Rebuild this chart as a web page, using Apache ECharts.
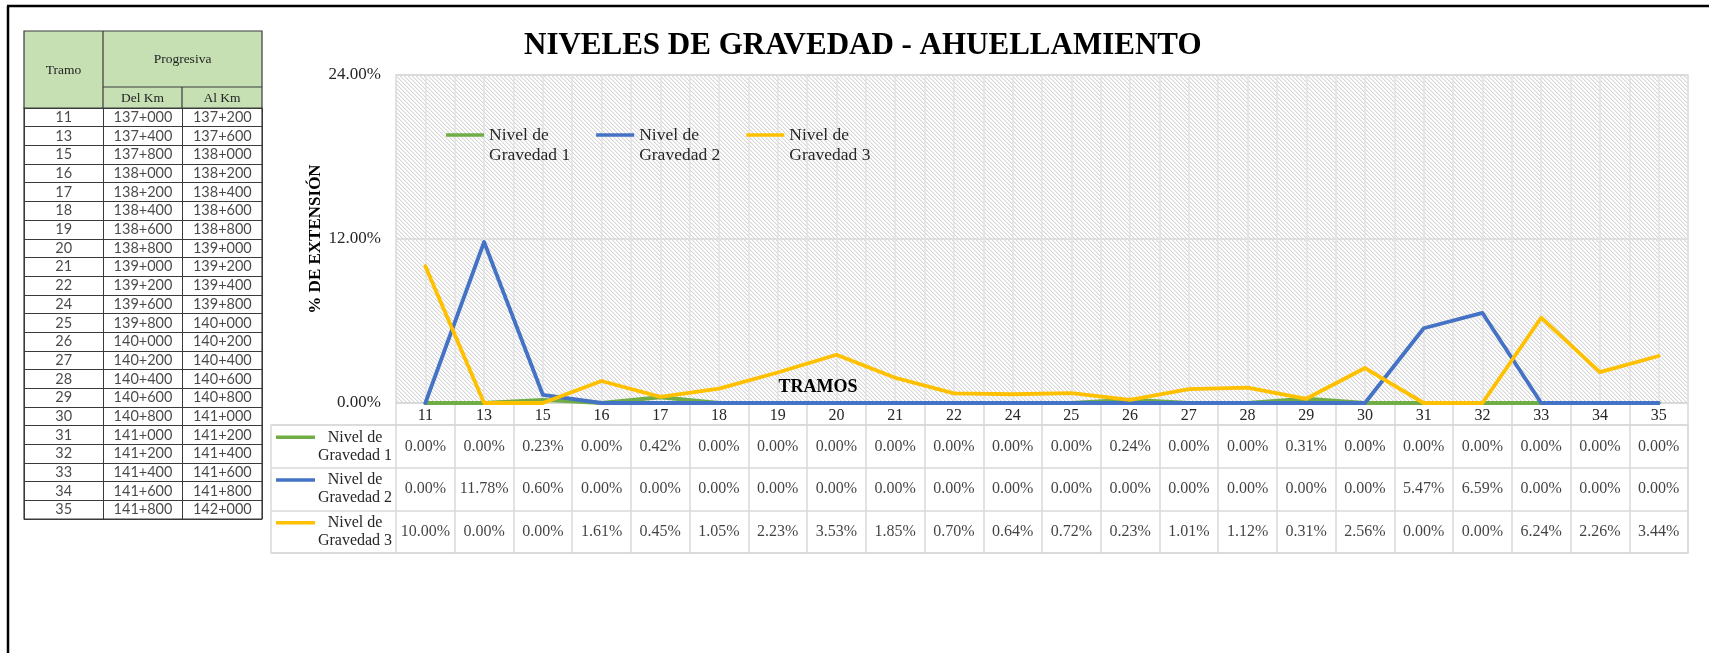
<!DOCTYPE html>
<html>
<head>
<meta charset="utf-8">
<script src="https://cdn.jsdelivr.net/npm/echarts@6/dist/echarts.min.js"></script>
<style>
html,body{margin:0;padding:0;background:#fff;}
#chart{width:1709px;height:653px;}
</style>
</head>
<body>
<div id="chart"></div>
<script>
// ---- data ----
const categories = ['11','13','15','16','17','18','19','20','21','22','24','25','26','27','28','29','30','31','32','33','34','35'];
const seriesNames = ['Nivel de Gravedad 1','Nivel de Gravedad 2','Nivel de Gravedad 3'];
const gravedad1 = [0.00,0.00,0.23,0.00,0.42,0.00,0.00,0.00,0.00,0.00,0.00,0.00,0.24,0.00,0.00,0.31,0.00,0.00,0.00,0.00,0.00,0.00];
const gravedad2 = [0.00,11.78,0.60,0.00,0.00,0.00,0.00,0.00,0.00,0.00,0.00,0.00,0.00,0.00,0.00,0.00,0.00,5.47,6.59,0.00,0.00,0.00];
const gravedad3 = [10.00,0.00,0.00,1.61,0.45,1.05,2.23,3.53,1.85,0.70,0.64,0.72,0.23,1.01,1.12,0.31,2.56,0.00,0.00,6.24,2.26,3.44];
const yTicks = [0, 12, 24];
const tramos = ['11','13','15','16','17','18','19','20','21','22','24','25','26','27','28','29','30','31','32','33','34','35'];
const delKm = ['137+000','137+400','137+800','138+000','138+200','138+400','138+600','138+800','139+000','139+200','139+600','139+800','140+000','140+200','140+400','140+600','140+800','141+000','141+200','141+400','141+600','141+800'];
const alKm  = ['137+200','137+600','138+000','138+200','138+400','138+600','138+800','139+000','139+200','139+400','139+800','140+000','140+200','140+400','140+600','140+800','141+000','141+200','141+400','141+600','141+800','142+000'];
const tableColumns = ['Tramo','Del Km','Al Km'];

// ---- styling ----
const SERIF = '"Liberation Serif", "Times New Roman", serif';
const SANS = 'Lato, "Open Sans", sans-serif';
const colors = ['#70AD47','#4472C4','#FFC000'];
const values = [gravedad1, gravedad2, gravedad3];

// hatch pattern for plot background
const pc = document.createElement('canvas');
pc.width = 8; pc.height = 8;
const pctx = pc.getContext('2d');
pctx.fillStyle = '#ffffff'; pctx.fillRect(0,0,8,8);
for (let x = 0; x < 8; x++) for (let y = 0; y < 8; y++) {
  const d = (((x - y) % 4) + 4) % 4;
  if (d === 0) { pctx.fillStyle = '#d6d6d6'; pctx.fillRect(x,y,1,1); }
  else if (d === 1) { pctx.fillStyle = '#efefef'; pctx.fillRect(x,y,1,1); }
}

const halfCats = categories.flatMap(c => [c + 'a', c + 'b']);

const tableData = [];
values.forEach((arr, s) => arr.forEach((v, i) => tableData.push([i, s, v])));
const leftData = [];
tramos.forEach((t, i) => {
  leftData.push([0, i, t]);
  leftData.push([1, i, delKm[i]]);
  leftData.push([2, i, alKm[i]]);
});

const rich = {
  t: {fontFamily: SERIF, fontSize: 16, lineHeight: 18, color: '#262626', width: 80, align: 'center'},
  b: {width: 39, height: 3}
};
colors.forEach((c, i) => { rich['k' + i] = {width: 39, height: 3.5, backgroundColor: c}; });

const chart = echarts.init(document.getElementById('chart'));
const hdrLine = '#3a3a3a';
const option = {
  animation: false,
  backgroundColor: '#ffffff',
  title: {
    text: 'NIVELES DE GRAVEDAD - AHUELLAMIENTO',
    left: 524, top: 30, padding: 0,
    textStyle: {fontFamily: SERIF, fontWeight: 'bold', fontSize: 31, color: '#000'}
  },
  legend: {
    data: seriesNames,
    left: 446, top: 105, padding: 0,
    itemWidth: 38, itemHeight: 3.5, itemGap: 26,
    icon: 'rect',
    formatter: n => '\u00A0\n' + n.replace('Nivel de ', 'Nivel de\n'),
    textStyle: {fontFamily: SERIF, fontSize: 17.5, color: '#262626', lineHeight: 20, width: 80}
  },
  grid: [
    {left: 396, top: 75, width: 1292, height: 328, show: true,
     backgroundColor: {image: pc, repeat: 'repeat'}, borderColor: '#d9d9d9', borderWidth: 1.5},
    {left: 396, top: 425, width: 1292, height: 128},
    {left: 271, top: 425, width: 1417, height: 128, show: true, borderColor: '#d9d9d9', borderWidth: 1.5, backgroundColor: 'transparent'},
    {left: 24, top: 108, width: 238, height: 411, show: true, borderColor: hdrLine, borderWidth: 1.2, backgroundColor: 'transparent'}
  ],
  xAxis: [
    {gridIndex: 0, type: 'category', data: categories, boundaryGap: true,
     axisLine: {show: true, lineStyle: {color: '#d9d9d9', width: 1.5}},
     axisTick: {show: true, length: 22, lineStyle: {color: '#d9d9d9', width: 1.5}},
     axisLabel: {fontFamily: SERIF, fontSize: 16, color: '#262626', margin: 5, interval: 0},
     splitLine: {show: false},
     name: 'TRAMOS', nameLocation: 'middle', nameGap: -25, nameMoveOverlap: false,
     nameTextStyle: {fontFamily: SERIF, fontWeight: 'bold', fontSize: 18, color: '#000', padding: [0, 448, 0, 0]}},
    {gridIndex: 0, type: 'category', data: halfCats, boundaryGap: true, position: 'top',
     axisLine: {show: false}, axisTick: {show: false}, axisLabel: {show: false},
     splitLine: {show: true, lineStyle: {color: '#e2e2e2', width: 1.5}}},
    {gridIndex: 1, type: 'category', data: categories, boundaryGap: true,
     axisLine: {show: false}, axisTick: {show: false}, axisLabel: {show: false},
     splitLine: {show: true, lineStyle: {color: '#d9d9d9', width: 1.5}}},
    {gridIndex: 2, type: 'value', show: false},
    {gridIndex: 3, type: 'category', data: tableColumns, boundaryGap: true,
     axisLine: {show: false}, axisTick: {show: false}, axisLabel: {show: false},
     splitLine: {show: true, lineStyle: {color: hdrLine, width: 1}}}
  ],
  yAxis: [
    {gridIndex: 0, type: 'value', min: yTicks[0], max: yTicks[2], interval: yTicks[1] - yTicks[0],
     axisLine: {show: false}, axisTick: {show: false},
     axisLabel: {fontFamily: SERIF, fontSize: 17, color: '#262626', margin: 15, formatter: v => v.toFixed(2) + '%'},
     splitLine: {show: true, lineStyle: {color: '#d9d9d9', width: 1.5}},
     name: '% DE EXTENSIÓN', nameLocation: 'middle', nameGap: 72, nameMoveOverlap: false,
     nameTextStyle: {fontFamily: SERIF, fontWeight: 'bold', fontSize: 17, color: '#000'}},
    {gridIndex: 1, type: 'category', data: seriesNames, inverse: true,
     axisLine: {show: false}, axisTick: {show: false}, splitLine: {show: false},
     axisLabel: {margin: 1, rich: rich,
       formatter: (v, i) => '{k' + i + '|}{t|Nivel de}\n{b|}{t|' + v.replace('Nivel de ', '') + '}'}},
    {gridIndex: 2, type: 'category', data: seriesNames, inverse: true,
     axisLine: {show: false}, axisTick: {show: false}, axisLabel: {show: false},
     splitLine: {show: true, lineStyle: {color: '#d9d9d9', width: 1.5}}},
    {gridIndex: 3, type: 'category', data: tramos, inverse: true,
     axisLine: {show: false}, axisTick: {show: false}, axisLabel: {show: false},
     splitLine: {show: true, lineStyle: {color: hdrLine, width: 1}}}
  ],
  series: [
    ...values.map((arr, s) => ({
      name: seriesNames[s], type: 'line', xAxisIndex: 0, yAxisIndex: 0,
      data: arr, showSymbol: false, symbol: 'none', z: 3 + s,
      color: colors[s],
      lineStyle: {color: colors[s], width: 3.8, cap: 'round', join: 'round'}
    })),
    {name: 'tabla', type: 'scatter', xAxisIndex: 2, yAxisIndex: 1, data: tableData,
     symbolSize: 0.1, itemStyle: {color: 'rgba(0,0,0,0)'}, silent: true,
     label: {show: true, position: 'inside', fontFamily: SERIF, fontSize: 16, color: '#111',
       formatter: p => p.value[2].toFixed(2) + '%'}},
    {name: 'progresivas', type: 'scatter', xAxisIndex: 4, yAxisIndex: 3, data: leftData,
     symbolSize: 0.1, itemStyle: {color: 'rgba(0,0,0,0)'}, silent: true,
     label: {show: true, position: 'inside', fontFamily: SANS, fontSize: 14.5, color: '#1a1a1a',
       formatter: p => p.value[2]}}
  ],
  graphic: [
    // outer frame
    {type: 'line', shape: {x1: 7, y1: 6, x2: 1709, y2: 6}, style: {stroke: '#000', lineWidth: 2.5}, z: 100},
    {type: 'line', shape: {x1: 8, y1: 6, x2: 8, y2: 653}, style: {stroke: '#000', lineWidth: 2.5}, z: 100},
    // left table header
    {type: 'rect', shape: {x: 24, y: 31, width: 238, height: 77}, style: {fill: '#C6E0B4', stroke: hdrLine, lineWidth: 1.2}, z: 10},
    {type: 'line', shape: {x1: 103, y1: 31, x2: 103, y2: 108}, style: {stroke: hdrLine, lineWidth: 1.2}, z: 11},
    {type: 'line', shape: {x1: 103, y1: 87, x2: 262, y2: 87}, style: {stroke: hdrLine, lineWidth: 1.2}, z: 11},
    {type: 'line', shape: {x1: 182, y1: 87, x2: 182, y2: 108}, style: {stroke: hdrLine, lineWidth: 1.2}, z: 11},
    {type: 'text', x: 63.5, y: 70, style: {text: 'Tramo', fontFamily: SERIF, fontSize: 13.5, fill: '#222', align: 'center', verticalAlign: 'middle'}, z: 12},
    {type: 'text', x: 182.5, y: 59, style: {text: 'Progresiva', fontFamily: SERIF, fontSize: 13.5, fill: '#222', align: 'center', verticalAlign: 'middle'}, z: 12},
    {type: 'text', x: 142.5, y: 98, style: {text: 'Del Km', fontFamily: SERIF, fontSize: 13.5, fill: '#222', align: 'center', verticalAlign: 'middle'}, z: 12},
    {type: 'text', x: 222, y: 98, style: {text: 'Al Km', fontFamily: SERIF, fontSize: 13.5, fill: '#222', align: 'center', verticalAlign: 'middle'}, z: 12}
  ]
};
chart.setOption(option);
</script>
</body>
</html>
